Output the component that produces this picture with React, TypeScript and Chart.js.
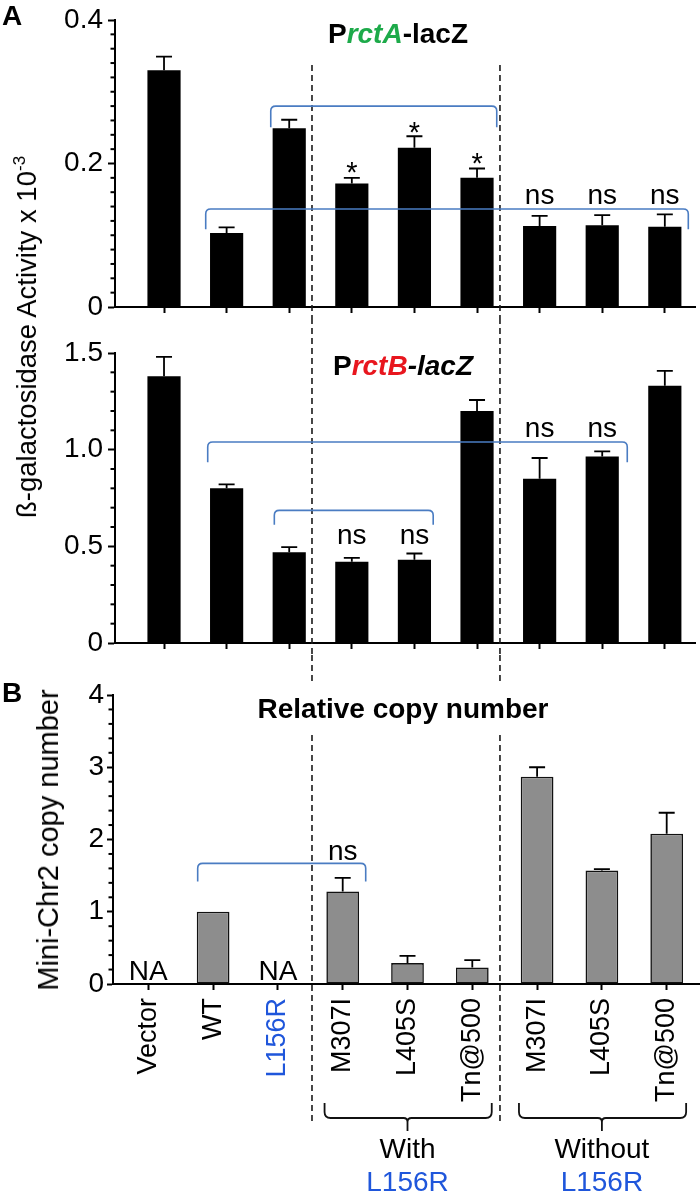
import React, { useEffect, useRef } from 'react';
import { Chart, registerables } from 'chart.js';

Chart.register(...registerables);

const FONT = "'Liberation Sans', Arial, Helvetica, sans-serif";
Chart.defaults.font.family = FONT;

// ---------- data ----------
const CATEGORIES = ['Vector', 'WT', 'L156R', 'M307I', 'L405S', 'Tn@500', 'M307I', 'L405S', 'Tn@500'];
const LABEL_COLORS = ['#000', '#000', '#1f56db', '#000', '#000', '#000', '#000', '#000', '#000'];

// Panel A top: PrctA-lacZ
const RCTA_MEAN = [0.330, 0.103, 0.249, 0.172, 0.222, 0.180, 0.113, 0.114, 0.112];
const RCTA_ERR = [0.019, 0.008, 0.012, 0.008, 0.016, 0.013, 0.014, 0.014, 0.017];
const RCTA_NOTES = ['', '', '', '*', '*', '*', 'ns', 'ns', 'ns'];
const RCTA_NOTE_Y = [null, null, null, 0.174, 0.230, 0.187, 0.1436, 0.1436, 0.1436];
// [from, to, level, foot] in axis units
const RCTA_BRACKETS = [
  [1.705, 5.315, 0.280, 0.2505],
  [0.666, 8.375, 0.1366, 0.1083],
];

// Panel A bottom: PrctB-lacZ
const RCTB_MEAN = [1.38, 0.80, 0.47, 0.42, 0.43, 1.20, 0.85, 0.965, 1.33];
const RCTB_ERR = [0.10, 0.02, 0.026, 0.02, 0.033, 0.057, 0.107, 0.026, 0.078];
const RCTB_NOTES = ['', '', '', 'ns', 'ns', '', 'ns', 'ns', ''];
const RCTB_NOTE_Y = [null, null, null, 0.511, 0.511, null, 1.067, 1.067, null];
const RCTB_BRACKETS = [
  [0.698, 7.40, 1.040, 0.935],
  [1.762, 4.30, 0.686, 0.612],
];

// Panel B: relative copy number
const COPY_MEAN = [null, 1.0, null, 1.28, 0.29, 0.23, 2.87, 1.57, 2.08];
const COPY_ERR = [null, 0, null, 0.19, 0.10, 0.10, 0.13, 0.02, 0.29];
const COPY_NOTES = ['NA', '', 'NA', 'ns', '', '', '', '', ''];
const COPY_NOTE_Y = [0.055, null, 0.055, 1.723, null, null, null, null, null];
const COPY_BRACKETS = [[0.762, 3.355, 1.67, 1.42]];

// group separators (panel B category units) and bottom groups
const DIVIDERS = [2.526, 5.427];
const GROUP_NAMES = ['With', 'Without'];
const GROUP_SUB = 'L156R';
const GROUP_FROM = [3, 6];
const GROUP_TO = [5, 8];

// ---------- styling ----------
const BRACKET_BLUE = '#4a7cc2';
const TEXT_BLUE = '#1f56db';
const GREEN = '#1daa4a';
const RED = '#e8161e';

type Seg = { text: string; font: string; color: string };

interface Panel {
  mean: (number | null)[];
  err: (number | null)[];
  yMax: number;
  major: number;
  minor: number;
  fmt: (v: number) => string;
  xMin: number;
  xMax: number;
  barPct: number;
  fill: string;
  borderWidth: number;
  axisWidth: number;
  padTop: number;
  padRight: number;
  xAxisHeight: number;
  majorTick: number;
  labelPad: number;
  brackets: number[][];
  notes: string[];
  noteY: (number | null)[];
  title: Seg[];
  titleCx: number;
  titleBaseline: number;
  titleBg: boolean;
  letter: string;
  letterBaseline: number;
  dashTop: number;
  dashBottom: number;
  showLabels: boolean;
  capHalf: number;
  extra?: (chart: any) => void;
}

function drawTitle(ctx: CanvasRenderingContext2D, segs: Seg[], cx: number, baseline: number, bg: boolean) {
  ctx.save();
  ctx.textAlign = 'left';
  ctx.textBaseline = 'alphabetic';
  let total = 0;
  const widths = segs.map((s) => {
    ctx.font = s.font;
    const w = ctx.measureText(s.text).width;
    total += w;
    return w;
  });
  let x = cx - total / 2;
  if (bg) {
    ctx.fillStyle = '#fff';
    ctx.fillRect(x - 6, baseline - 35, total + 12, 52);
  }
  segs.forEach((s, i) => {
    ctx.font = s.font;
    ctx.fillStyle = s.color;
    ctx.fillText(s.text, x, baseline);
    x += widths[i];
  });
  ctx.restore();
}

function makeConfig(p: Panel, dividerXs: (chart: any) => number[]): any {
  const plugin = {
    id: 'panelDeco',
    beforeDatasetsDraw(chart: any) {
      const ctx = chart.ctx as CanvasRenderingContext2D;
      ctx.save();
      ctx.strokeStyle = '#1a1a1a';
      ctx.lineWidth = 1.6;
      ctx.setLineDash([6, 4]);
      for (const x of dividerXs(chart)) {
        ctx.beginPath();
        ctx.moveTo(x, p.dashTop);
        ctx.lineTo(x, p.dashBottom);
        ctx.stroke();
      }
      ctx.restore();
    },
    afterDatasetsDraw(chart: any) {
      const ctx = chart.ctx as CanvasRenderingContext2D;
      const xs = chart.scales.x;
      const ys = chart.scales.y;
      const area = chart.chartArea;
      ctx.save();
      // minor y ticks
      ctx.strokeStyle = '#000';
      ctx.lineWidth = 2;
      const n = Math.round(p.yMax / p.minor);
      for (let k = 0; k <= n; k++) {
        const v = k * p.minor;
        const r = v / p.major;
        if (Math.abs(r - Math.round(r)) < 1e-6) continue;
        const y = ys.getPixelForValue(v);
        ctx.beginPath();
        ctx.moveTo(area.left - 4.5, y);
        ctx.lineTo(area.left, y);
        ctx.stroke();
      }
      // error bars
      ctx.lineWidth = 1.8;
      p.mean.forEach((m, i) => {
        const e = p.err[i];
        if (m == null || !e) return;
        const x = xs.getPixelForValue(i);
        const y0 = ys.getPixelForValue(m);
        const y1 = ys.getPixelForValue(m + e);
        ctx.beginPath();
        ctx.moveTo(x, y0);
        ctx.lineTo(x, y1);
        ctx.moveTo(x - p.capHalf, y1);
        ctx.lineTo(x + p.capHalf, y1);
        ctx.stroke();
      });
      // brackets
      ctx.strokeStyle = BRACKET_BLUE;
      ctx.lineWidth = 1.6;
      const r = 5;
      p.brackets.forEach(([from, to, level, foot]) => {
        const x1 = xs.getPixelForValue(from);
        const x2 = xs.getPixelForValue(to);
        const yl = ys.getPixelForValue(level);
        const yf = ys.getPixelForValue(foot);
        ctx.beginPath();
        ctx.moveTo(x1, yf);
        ctx.lineTo(x1, yl + r);
        ctx.quadraticCurveTo(x1, yl, x1 + r, yl);
        ctx.lineTo(x2 - r, yl);
        ctx.quadraticCurveTo(x2, yl, x2, yl + r);
        ctx.lineTo(x2, yf);
        ctx.stroke();
      });
      // notes
      ctx.fillStyle = '#000';
      ctx.textAlign = 'center';
      ctx.textBaseline = 'alphabetic';
      p.notes.forEach((t, i) => {
        const v = p.noteY[i];
        if (!t || v == null) return;
        ctx.font = t === '*' ? `29px ${FONT}` : `28px ${FONT}`;
        ctx.fillText(t, xs.getPixelForValue(i), ys.getPixelForValue(v));
      });
      ctx.restore();
      // title
      drawTitle(ctx, p.title, p.titleCx, p.titleBaseline, p.titleBg);
      // panel letter
      ctx.save();
      ctx.font = `bold 28px ${FONT}`;
      ctx.fillStyle = '#000';
      ctx.textAlign = 'left';
      ctx.textBaseline = 'alphabetic';
      if (p.letter) ctx.fillText(p.letter, 2, p.letterBaseline);
      ctx.restore();
    },
    afterDraw(chart: any) {
      if (p.extra) p.extra(chart);
    },
  };

  return {
    type: 'bar',
    data: {
      datasets: [
        {
          data: p.mean.map((v, i) => ({ x: i, y: v })),
          backgroundColor: p.fill,
          borderColor: '#111',
          borderWidth: p.borderWidth,
          borderSkipped: false,
          barPercentage: p.barPct,
          categoryPercentage: 1,
        },
      ],
    },
    options: {
      responsive: false,
      animation: false,
      devicePixelRatio: 1,
      layout: { padding: { left: 0, right: p.padRight, top: p.padTop, bottom: 0 } },
      plugins: { legend: { display: false }, tooltip: { enabled: false }, title: { display: false } },
      scales: {
        x: {
          type: 'linear',
          min: p.xMin,
          max: p.xMax,
          offset: false,
          afterBuildTicks: (s: any) => {
            s.ticks = CATEGORIES.map((_, i) => ({ value: i }));
          },
          afterFit: (s: any) => {
            s.height = p.xAxisHeight;
            s.paddingLeft = 0;
            s.paddingRight = 0;
          },
          grid: {
            display: true,
            offset: false,
            drawOnChartArea: false,
            drawTicks: true,
            tickLength: 6,
            tickWidth: 2,
            tickColor: '#000',
            color: '#000',
          },
          border: { display: true, color: '#000', width: 2 },
          ticks: {
            autoSkip: false,
            minRotation: p.showLabels ? 90 : 0,
            maxRotation: p.showLabels ? 90 : 0,
            padding: 8,
            font: { size: 27, family: FONT },
            color: (c: any) => LABEL_COLORS[c.index] || '#000',
            callback: (_v: any, i: number) => (p.showLabels ? CATEGORIES[i] : ''),
          },
        },
        y: {
          type: 'linear',
          min: 0,
          max: p.yMax,
          afterFit: (s: any) => {
            s.width = p.axisWidth;
            s.paddingTop = 0;
            s.paddingBottom = 0;
          },
          grid: {
            display: true,
            drawOnChartArea: false,
            drawTicks: true,
            tickLength: p.majorTick,
            tickWidth: 2,
            tickColor: '#000',
            color: '#000',
          },
          border: { display: true, color: '#000', width: 2 },
          ticks: {
            stepSize: p.major,
            padding: p.labelPad,
            color: '#000',
            font: { size: 28, family: FONT },
            callback: (v: any) => p.fmt(Number(v)),
          },
        },
      },
    },
    plugins: [plugin],
  };
}

const fmt1 = (v: number) => (Math.abs(v) < 1e-9 ? '0' : v.toFixed(1));

export default function App() {
  const r1 = useRef<HTMLCanvasElement>(null);
  const r2 = useRef<HTMLCanvasElement>(null);
  const r3 = useRef<HTMLCanvasElement>(null);

  useEffect(() => {
    if (!r1.current || !r2.current || !r3.current) return;

    const panelB: Panel = {
      mean: COPY_MEAN,
      err: COPY_ERR,
      yMax: 4,
      major: 1,
      minor: 0.2,
      fmt: (v) => String(Math.round(v)),
      xMin: -0.545,
      xMax: 8.514,
      barPct: 0.505,
      fill: '#8d8d8d',
      borderWidth: 1.6,
      axisWidth: 113,
      padTop: 40,
      padRight: 0,
      xAxisHeight: 212,
      majorTick: 6,
      labelPad: 3,
      brackets: COPY_BRACKETS,
      notes: COPY_NOTES,
      noteY: COPY_NOTE_Y,
      title: [{ text: 'Relative copy number', font: `bold 28px ${FONT}`, color: '#000' }],
      titleCx: 403,
      titleBaseline: 63,
      titleBg: true,
      letter: 'B',
      letterBaseline: 47,
      dashTop: 0,
      dashBottom: 467,
      showLabels: true,
      capHalf: 8,
      extra: (chart: any) => {
        const ctx = chart.ctx as CanvasRenderingContext2D;
        const xs = chart.scales.x;
        const bottom = chart.chartArea.bottom;
        const yTop = bottom + 119;
        const yLine = bottom + 134;
        const yTip = bottom + 147;
        const rr = 6;
        ctx.save();
        ctx.strokeStyle = '#111';
        ctx.lineWidth = 1.8;
        GROUP_NAMES.forEach((name, g) => {
          const x1 = xs.getPixelForValue(GROUP_FROM[g] - 0.28);
          const x2 = xs.getPixelForValue(GROUP_TO[g] + 0.3);
          const xm = xs.getPixelForValue((GROUP_FROM[g] + GROUP_TO[g]) / 2);
          ctx.beginPath();
          ctx.moveTo(x1, yTop);
          ctx.lineTo(x1, yLine - rr);
          ctx.quadraticCurveTo(x1, yLine, x1 + rr, yLine);
          ctx.lineTo(xm - 4, yLine);
          ctx.quadraticCurveTo(xm, yLine, xm, yLine + 4);
          ctx.lineTo(xm, yTip);
          ctx.moveTo(xm, yLine + 4);
          ctx.quadraticCurveTo(xm, yLine, xm + 4, yLine);
          ctx.lineTo(x2 - rr, yLine);
          ctx.quadraticCurveTo(x2, yLine, x2, yLine - rr);
          ctx.lineTo(x2, yTop);
          ctx.stroke();
          ctx.textAlign = 'center';
          ctx.textBaseline = 'alphabetic';
          ctx.font = `28px ${FONT}`;
          ctx.fillStyle = '#000';
          ctx.fillText(name, xm, bottom + 174);
          ctx.fillStyle = TEXT_BLUE;
          ctx.fillText(GROUP_SUB, xm, bottom + 207);
        });
        ctx.restore();
      },
    };

    const chartB = new Chart(
      r3.current,
      makeConfig(panelB, (chart: any) => DIVIDERS.map((v) => chart.scales.x.getPixelForValue(v)))
    );
    const bx = DIVIDERS.map((v) => chartB.scales.x.getPixelForValue(v));

    const panelA1: Panel = {
      mean: RCTA_MEAN,
      err: RCTA_ERR,
      yMax: 0.4,
      major: 0.2,
      minor: 0.02,
      fmt: fmt1,
      xMin: -0.783,
      xMax: 8.482,
      barPct: 0.53,
      fill: '#000',
      borderWidth: 0,
      axisWidth: 115,
      padTop: 20,
      padRight: 5,
      xAxisHeight: 11,
      majorTick: 7,
      labelPad: 5,
      brackets: RCTA_BRACKETS,
      notes: RCTA_NOTES,
      noteY: RCTA_NOTE_Y,
      title: [
        { text: 'P', font: `bold 28px ${FONT}`, color: '#000' },
        { text: 'rctA', font: `italic bold 28px ${FONT}`, color: GREEN },
        { text: '-lacZ', font: `bold 28px ${FONT}`, color: '#000' },
      ],
      titleCx: 398,
      titleBaseline: 43,
      titleBg: false,
      letter: 'A',
      letterBaseline: 25,
      dashTop: 65,
      dashBottom: 318,
      showLabels: false,
      capHalf: 8,
    };

    const panelA2: Panel = {
      mean: RCTB_MEAN,
      err: RCTB_ERR,
      yMax: 1.5,
      major: 0.5,
      minor: 0.1,
      fmt: fmt1,
      xMin: -0.783,
      xMax: 8.482,
      barPct: 0.53,
      fill: '#000',
      borderWidth: 0,
      axisWidth: 115,
      padTop: 35,
      padRight: 5,
      xAxisHeight: 12,
      majorTick: 7,
      labelPad: 5,
      brackets: RCTB_BRACKETS,
      notes: RCTB_NOTES,
      noteY: RCTB_NOTE_Y,
      title: [
        { text: 'P', font: `bold 28px ${FONT}`, color: '#000' },
        { text: 'rctB', font: `italic bold 28px ${FONT}`, color: RED },
        { text: '-lacZ', font: `italic bold 28px ${FONT}`, color: '#000' },
      ],
      titleCx: 403,
      titleBaseline: 57,
      titleBg: false,
      letter: '',
      letterBaseline: 0,
      dashTop: 0,
      dashBottom: 337,
      showLabels: false,
      capHalf: 8,
    };

    const chartA1 = new Chart(r1.current, makeConfig(panelA1, () => bx));
    const chartA2 = new Chart(r2.current, makeConfig(panelA2, () => bx));

    return () => {
      chartA1.destroy();
      chartA2.destroy();
      chartB.destroy();
    };
  }, []);

  const rotTitle = (cx: number, cy: number, size: number): React.CSSProperties => ({
    position: 'absolute',
    left: cx,
    top: cy,
    transform: 'translate(-50%, -50%) rotate(-90deg)',
    whiteSpace: 'nowrap',
    fontFamily: FONT,
    fontSize: size,
    lineHeight: '32px',
    color: '#000',
  });

  return (
    <div style={{ position: 'absolute', left: 0, top: 0, width: 700, height: 1196, background: '#fff', overflow: 'hidden' }}>
      <canvas ref={r1} width={700} height={318} style={{ position: 'absolute', left: 0, top: 0, width: 700, height: 318 }} />
      <canvas ref={r2} width={700} height={337} style={{ position: 'absolute', left: 0, top: 318, width: 700, height: 337 }} />
      <canvas ref={r3} width={700} height={541} style={{ position: 'absolute', left: 0, top: 655, width: 700, height: 541 }} />
      <div style={rotTitle(29, 337, 27.5)}>
        ß-galactosidase Activity x 10
        <span style={{ fontSize: 17, position: 'relative', top: -11 }}>-3</span>
      </div>
      <div style={rotTitle(48, 840, 29)}>Mini-Chr2 copy number</div>
    </div>
  );
}
